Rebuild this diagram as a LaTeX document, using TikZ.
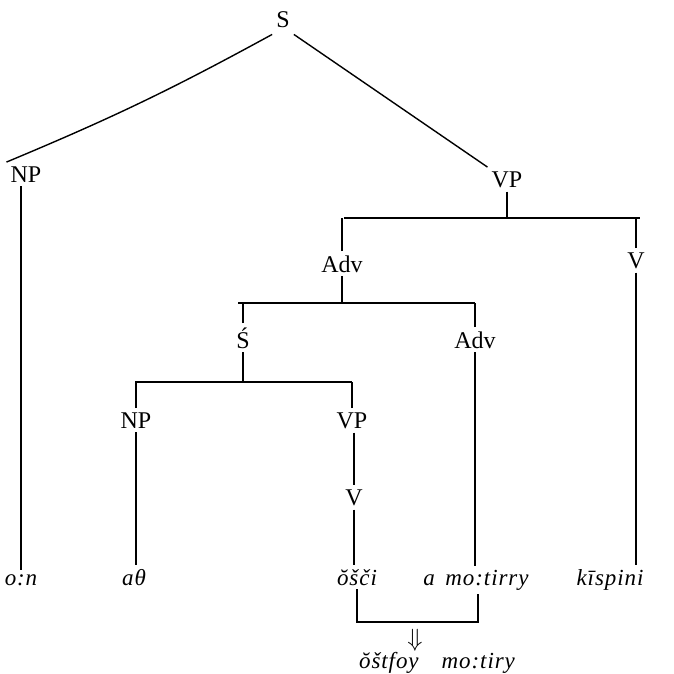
\documentclass[tikz,border=0pt]{standalone}
\usepackage{fontspec}
\setmainfont{Liberation Serif}
\newfontfamily\labfont{Liberation Serif}
\newfontfamily\wordfont[LetterSpace=4]{Liberation Serif}
\begin{document}
\begin{tikzpicture}[x=1pt,y=-1pt,
  lab/.style={font=\labfont\fontsize{24}{28}\selectfont, inner sep=4pt, anchor=base},
  word/.style={font=\wordfont\itshape\fontsize{23}{27}\selectfont, inner sep=4pt, anchor=base},
  edge/.style={line width=1.4pt}]
\useasboundingbox (0,0) rectangle (673,674);
% labels (positions are baselines)
\node[lab] (S) at (283,28) {S};
\node[lab] (NPa) at (26,182) {NP};
\node[lab] (VPa) at (507,187) {VP};
\node[lab] (Adva) at (342,272) {Adv};
\node[lab] (Va) at (636,268) {V};
\node[lab] (Sbar) at (243,348) {Ś};
\node[lab] (Advb) at (475,348) {Adv};
\node[lab] (NPb) at (136,428) {NP};
\node[lab] (VPb) at (352,428) {VP};
\node[lab] (Vb) at (354,505) {V};
% words (positions are baselines)
\node[word] (w1) at (21,585) {o:n};
\node[word] (w2) at (134,585) {aθ};
\node[word] (w3) at (357,585) {ŏšči};
\node[word] (w4) at (476,585) {a\, mo:tirry};
\node[word] (w5) at (610,585) {kīspini};
\node[lab, anchor=center, inner sep=0pt] (arr) at (415,640) {$\Downarrow$};
\node[word] (res) at (437,668) {ŏštfoy\quad mo:tiry};
% bar coordinates
\coordinate (b1l) at (344,218);
\coordinate (b1r) at (640,218);
\coordinate (b2l) at (238,303);
\coordinate (b2r) at (475,303);
\coordinate (b3l) at (135,382);
\coordinate (b3r) at (352,382);
\coordinate (b4l) at (357,622);
\coordinate (b4r) at (478,622);
% top edges
\draw[edge] ([yshift=-2pt]S.south west) to[bend left=3] (NPa.north west);
\draw[edge] ([yshift=-2pt]S.south east) -- (VPa.north west);
% NP to o:n
\draw[edge] (NPa.south -| w1) -- (w1.north);
% VP to bar
\draw[edge] (VPa.south) -- (VPa.south |- b1l);
\draw[edge] (b1l) -- (b1r);
\draw[edge] (Adva.north) -- (Adva.north |- b1l);
\draw[edge] (Va.north) -- (Va.north |- b1r);
% V to kispini
\draw[edge] (Va.south) -- (Va.south |- w5.north);
% Adv to bar2
\draw[edge] (Adva.south) -- (Adva.south |- b2l);
\draw[edge] (b2l) -- (b2r);
\draw[edge] (Sbar.north) -- (Sbar.north |- b2l);
\draw[edge] (Advb.north) -- (Advb.north |- b2r);
% Adv b to a mo:tirry
\draw[edge] (Advb.south) -- (Advb.south |- w4.north);
% S-bar to bar3
\draw[edge] (Sbar.south) -- (Sbar.south |- b3l);
\draw[edge] (b3l) -- (b3r);
\draw[edge] (NPb.north) -- (NPb.north |- b3l);
\draw[edge] (VPb.north) -- (VPb.north |- b3r);
% NP b to a-theta
\draw[edge] (NPb.south) -- (NPb.south |- w2.north);
% VP b to V b
\draw[edge] (VPb.south -| Vb) -- (Vb.north);
\draw[edge] (Vb.south) -- (Vb.south |- w3.north);
% bracket below
\draw[edge] (b4l |- w3.south) -- (b4l) -- (b4r) -- (b4r |- w4.south);
\end{tikzpicture}
\end{document}
